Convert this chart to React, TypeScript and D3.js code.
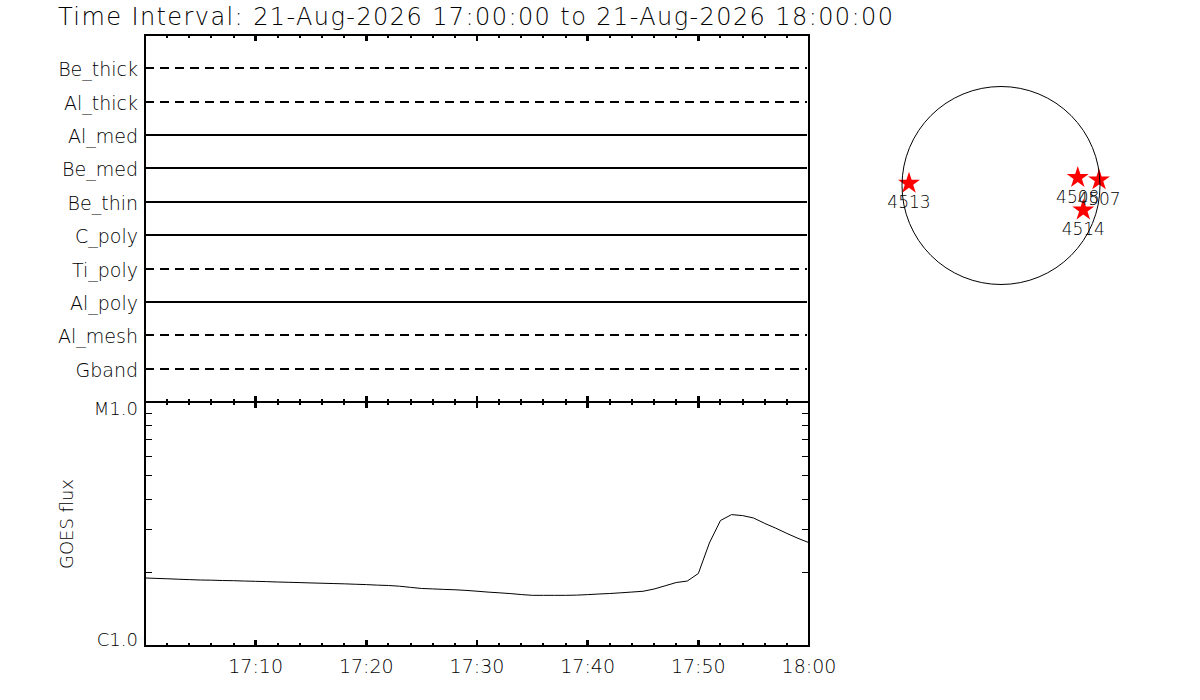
import React from 'react';
import * as d3 from 'd3';

// ---- data ----
const title = 'Time Interval: 21-Aug-2026 17:00:00 to 21-Aug-2026 18:00:00';
const startTime = new Date(Date.UTC(2026, 7, 21, 17, 0, 0));
const endTime = new Date(Date.UTC(2026, 7, 21, 18, 0, 0));

const channels = ['Be_thick', 'Al_thick', 'Al_med', 'Be_med', 'Be_thin', 'C_poly', 'Ti_poly', 'Al_poly', 'Al_mesh', 'Gband'];
const channelDashed = [true, true, false, false, false, false, true, false, true, true];

// GOES 1-8 A flux, one sample per minute from 17:00, in units of 1e-6 W/m^2 (C1.0 = 1)
const goesFlux = [
  1.900, 1.893, 1.886, 1.878, 1.871, 1.864, 1.861, 1.855, 1.852, 1.846,
  1.841, 1.836, 1.829, 1.824, 1.819, 1.813, 1.808, 1.803, 1.798, 1.791,
  1.785, 1.776, 1.770, 1.758, 1.739, 1.721, 1.714, 1.706, 1.700, 1.690,
  1.677, 1.663, 1.652, 1.640, 1.625, 1.613, 1.613, 1.613, 1.613, 1.616,
  1.624, 1.633, 1.641, 1.652, 1.664, 1.676, 1.712, 1.765, 1.820, 1.846,
  1.982, 2.644, 3.268, 3.455, 3.423, 3.346, 3.180, 3.040, 2.894, 2.763,
  2.651,
];
const fluxTickLabels = ['C1.0', 'M1.0'];
const fluxTickValues = [1, 10];
const fluxMinor = [2, 3, 4, 5, 6, 7, 8, 9];

// active regions on the disk, arcsec from disk centre (solar north up)
const solarRadius = 948;
const arNames = ['4513', '4508', '4507', '4514'];
const arX = [-881, 735, 939, 788];
const arY = [21, 75, 53, -235];

const FONT = "'DejaVu Sans', sans-serif";

export default function App() {
  const left = 145;
  const right = 809;
  const top = 35;
  const mid = 402;
  const bottom = 646;

  const x = d3.scaleUtc().domain([startTime, endTime]).range([left, right]);
  const rowY = d3.scaleLinear().domain([0, channels.length + 1]).range([top, mid]);
  const y = d3.scaleLog().domain([1, 10]).range([bottom, mid]);

  const minorTicks = x.ticks(d3.utcMinute.every(2)!);
  const majorTicks = x.ticks(d3.utcMinute.every(10)!);
  const fmt = d3.utcFormat('%H:%M');

  const timeOf = (i: number) => d3.utcMinute.offset(startTime, i);
  const line = d3
    .line<number>()
    .x((_, i) => x(timeOf(i)))
    .y((d) => y(d));

  const cx = 1001;
  const cy = 185.5;
  const rPx = 99;
  const sx = d3.scaleLinear().domain([-solarRadius, solarRadius]).range([cx - rPx, cx + rPx]);
  const sy = d3.scaleLinear().domain([-solarRadius, solarRadius]).range([cy + rPx, cy - rPx]);
  const star = d3.symbol(d3.symbolStar, 150)();

  const stroke = '#000';

  return (
    <svg
      width={1200}
      height={700}
      style={{ position: 'absolute', left: 0, top: 0, background: '#fff' }}
      fontFamily={FONT}
      fill="#000"
    >
      <rect width={1200} height={700} fill="#fff" />
      <text x={58} y={25} fontSize={24} fontWeight={300} textLength={835} lengthAdjust="spacing">
        {title}
      </text>

      {/* channel rows */}
      {channels.map((c, i) => (
        <g key={c}>
          <line
            x1={left}
            x2={right - 2}
            y1={rowY(i + 1)}
            y2={rowY(i + 1)}
            stroke={stroke}
            strokeWidth={2}
            strokeDasharray={channelDashed[i] ? '9,6' : undefined}
            shapeRendering="crispEdges"
          />
          <text x={138} y={rowY(i + 1) + 8} fontSize={19} fontWeight={300} textAnchor="end">
            {c}
          </text>
        </g>
      ))}

      {/* GOES curve */}
      <path d={line(goesFlux) ?? ''} fill="none" stroke={stroke} strokeWidth={1} />

      {/* frames */}
      <rect x={left} y={top} width={right - left} height={mid - top} fill="none" stroke={stroke} strokeWidth={2.5} shapeRendering="crispEdges" />
      <rect x={left} y={mid} width={right - left} height={bottom - mid} fill="none" stroke={stroke} strokeWidth={2.5} shapeRendering="crispEdges" />

      {/* time ticks */}
      {minorTicks.map((t) => {
        const major = t.getUTCMinutes() % 10 === 0;
        const len = major ? 6 : 3;
        const xx = x(t);
        return (
          <g key={+t} stroke={stroke} strokeWidth={major ? 2.5 : 2} shapeRendering="crispEdges">
            <line x1={xx} x2={xx} y1={top} y2={top + len} />
            <line x1={xx} x2={xx} y1={mid - len} y2={mid + len} />
            <line x1={xx} x2={xx} y1={bottom} y2={bottom - len} />
          </g>
        );
      })}
      {majorTicks
        .filter((t) => +t > +startTime)
        .map((t) => (
          <text key={+t} x={x(t)} y={673} fontSize={19} fontWeight={300} textAnchor="middle">
            {fmt(t)}
          </text>
        ))}

      {/* flux axis minor ticks */}
      {fluxMinor.map((v) => (
        <g key={v} stroke={stroke} strokeWidth={1} shapeRendering="crispEdges">
          <line x1={left} x2={left + 7} y1={y(v)} y2={y(v)} />
          <line x1={right} x2={right - 7} y1={y(v)} y2={y(v)} />
        </g>
      ))}
      {fluxTickLabels.map((l, i) => (
        <text
          key={l}
          x={138}
          y={i === 0 ? y(fluxTickValues[i]) : y(fluxTickValues[i]) + 13}
          fontSize={18}
          fontWeight={300}
          textAnchor="end"
        >
          {l}
        </text>
      ))}
      <text
        transform={`translate(73, ${(mid + bottom) / 2}) rotate(-90)`}
        fontSize={18}
        fontWeight={300}
        textAnchor="middle"
      >
        GOES flux
      </text>

      {/* solar disk */}
      {arNames.map((n, i) => (
        <path key={n} d={star ?? ''} transform={`translate(${sx(arX[i])}, ${sy(arY[i])})`} fill="#ff0000" />
      ))}
      <circle cx={cx} cy={cy} r={rPx} fill="none" stroke={stroke} strokeWidth={1} />
      {arNames.map((n, i) => (
        <text key={n} x={sx(arX[i])} y={sy(arY[i]) + 25} fontSize={17} fontWeight={300} textAnchor="middle">
          {n}
        </text>
      ))}
    </svg>
  );
}
